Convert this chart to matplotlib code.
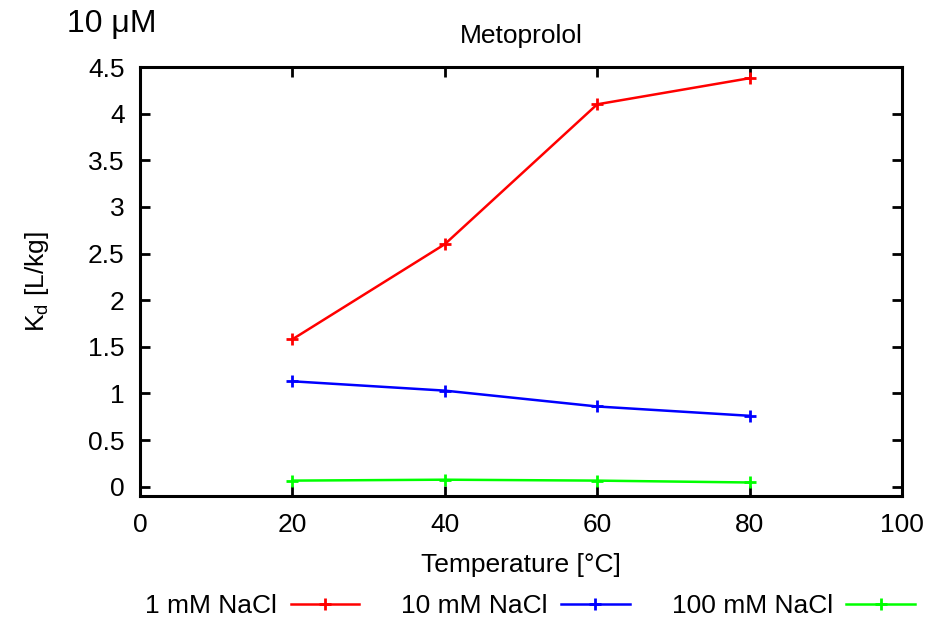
import matplotlib
matplotlib.use("Agg")
import matplotlib.pyplot as plt

# data
temps = [20, 40, 60, 80]
kd_1mM = [1.58, 2.60, 4.10, 4.38]
kd_10mM = [1.13, 1.03, 0.86, 0.76]
kd_100mM = [0.065, 0.075, 0.065, 0.045]
labels = ["1 mM NaCl", "10 mM NaCl", "100 mM NaCl"]
colors = ["#ff0000", "#0000ff", "#00ff00"]
xticks = [0, 20, 40, 60, 80, 100]
yticks = [0, 0.5, 1, 1.5, 2, 2.5, 3, 3.5, 4, 4.5]

plt.rcParams['font.family'] = ['Liberation Sans', 'DejaVu Sans']
plt.rcParams['mathtext.fontset'] = 'custom'
plt.rcParams['mathtext.rm'] = 'Liberation Sans'
plt.rcParams['mathtext.it'] = 'Liberation Sans:italic'

fs = 19
fig = plt.figure(figsize=(9.4, 6.17), dpi=100)
ax = fig.add_axes([0.1489, 0.1961, 0.8107, 0.6953])

for ys, lab, c in zip([kd_1mM, kd_10mM, kd_100mM], labels, colors):
    ax.plot(temps, ys, color=c, lw=1.8, marker='+', ms=8, mew=2, label=lab)

ax.set_xlim(0, 100)
ax.set_ylim(-0.1, 4.5)
ax.set_xticks(xticks)
ax.set_yticks(yticks)
ax.set_xticklabels(["%g" % v for v in xticks])
ax.set_yticklabels(["%g" % v for v in yticks])
ax.tick_params(direction='in', length=7, width=2, top=True, right=True,
               labelsize=fs)
ax.tick_params(axis='x', pad=12)
ax.tick_params(axis='y', pad=11)
for s in ax.spines.values():
    s.set_linewidth(2.2)

ax.set_xlabel("Temperature [°C]", fontsize=fs, labelpad=12)
ax.set_ylabel(r"K$_\mathrm{d}$ [L/kg]", fontsize=fs)
ax.yaxis.set_label_coords(-0.117, 0.5)
ax.set_title("Metoprolol", fontsize=fs, pad=17)
fig.text(0.071, 0.961, "10 μM", fontsize=23, va='center', ha='left')

fig.legend(loc='center', bbox_to_anchor=(0.564, 0.018), ncol=3,
           frameon=False, markerfirst=False, fontsize=fs,
           handlelength=2.6, columnspacing=1.6, handletextpad=0.5)

fig.savefig("out.png", dpi=100)
